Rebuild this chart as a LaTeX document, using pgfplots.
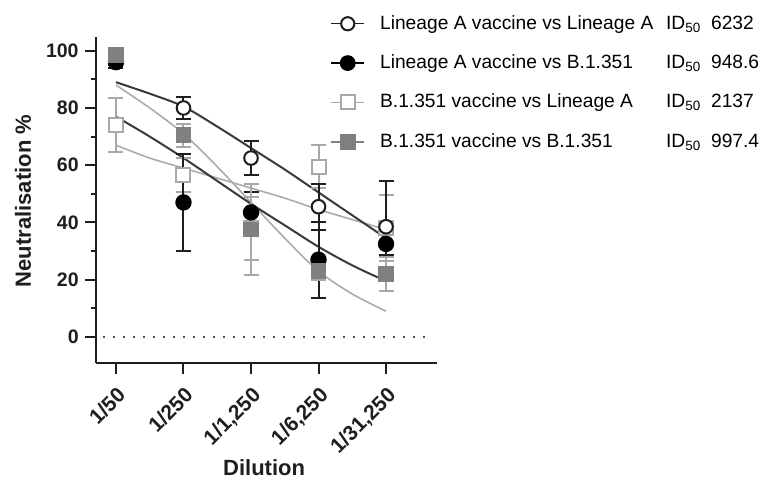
\documentclass[border=0pt]{standalone}
\usepackage{fontspec}
\setmainfont{Liberation Sans}
\usepackage{pgfplots}
\usepackage{pgfplotstable}
\pgfplotsset{compat=1.18}

\definecolor{dk}{HTML}{1E1E1E}
\definecolor{crv}{HTML}{3A3A3A}
\definecolor{lg}{HTML}{A8A8A8}
\definecolor{mg}{HTML}{808080}
\definecolor{lgc}{HTML}{ABABAB}
\definecolor{dot}{HTML}{555555}

% measured points: x, mean, error
\pgfplotstableread{
x y e
0 97 2
1 80 3.7
2 62.5 6
3 45.5 8
4 38.5 16
}\sA
\pgfplotstableread{
x y e
0 96 2
1 47 17
2 43.5 7.3
3 27 13.3
4 32.5 4
}\sB
\pgfplotstableread{
x y e
0 74 9.5
1 56.5 6
2 38 11
3 59.5 7.5
4 38 11.5
}\sC
\pgfplotstableread{
x y e
0 98.5 2
1 70.5 4
2 37.5 16
3 23 3
4 22 6
}\sD
% fitted curves
\pgfplotstableread{
x y
0 89
0.5 85
1 80.5
1.5 73.5
2 66
2.5 58.5
3 50.5
3.5 42.5
4 34.5
}\cA
\pgfplotstableread{
x y
0 77
0.5 70
1 62.5
1.5 54.5
2 46.5
2.5 39
3 31.5
3.5 25
4 19.5
}\cB
\pgfplotstableread{
x y
0 67
0.5 62.5
1 59
1.5 55.5
2 52
2.5 48.5
3 44.5
3.5 41
4 37.5
}\cC
\pgfplotstableread{
x y
0 88
0.5 80
1 71
1.5 59.5
2 47
2.5 34.5
3 23
3.5 15
4 9
}\cD

\newcommand\entry[3]{\makebox[143pt][l]{#1}\makebox[22.5pt][l]{#2}#3}

\begin{document}
\begin{tikzpicture}[x=1pt,y=1pt]
\useasboundingbox (0,0) rectangle (382.5,245);
\begin{axis}[
  at={(48pt,63.5pt)}, anchor=south west,
  scale only axis, width=170.5pt, height=163pt,
  xmin=-0.296, xmax=4.755, ymin=-9.1, ymax=104.8,
  clip=false,
  axis lines=left,
  axis line style={-, line width=1pt, color=dk},
  xtick={0,1,2,3,4},
  xticklabels={1/50,1/250,{1/1,250},{1/6,250},{1/31,250}},
  ytick={0,20,40,60,80,100},
  minor ytick={10,30,50,70,90},
  tick align=outside,
  tick style={line width=1pt, color=dk},
  major tick length=5.5pt, minor tick length=2.5pt,
  /pgf/number format/assume math mode=true,
  ticklabel style={font=\bfseries\fontsize{9.75}{11}\selectfont, text=dk},
  xticklabel style={font=\bfseries\fontsize{10.5}{12}\selectfont, rotate=45, anchor=north east, inner sep=4pt},
  yticklabel style={inner sep=3pt},
  xlabel={Dilution}, ylabel={Neutralisation \%},
  label style={font=\bfseries\fontsize{11}{13}\selectfont, text=dk},
  xlabel style={at={(axis description cs:0.493,-0.322)}, anchor=center},
  ylabel style={at={(axis description cs:-0.214,0.497)}, anchor=center},
  legend image code/.code={\draw[mark repeat=2,mark phase=2] plot coordinates {(0pt,0pt)(8.25pt,0pt)(16.5pt,0pt)};},
  legend cell align=left,
  legend style={at={(0.686,1.08)}, anchor=north west, draw=none, fill=none,
    inner sep=0pt, row sep=7.2pt,
    font=\fontsize{9.6}{11}\selectfont,
    nodes={inner sep=2pt},
    /tikz/every odd column/.append style={column sep=5.5pt}},
]
% zero line
\addplot[dot, line width=0.9pt, dash pattern=on 1pt off 4pt, forget plot] coordinates {(-0.19,0) (4.68,0)};
% fitted curves
\addplot[lgc, line width=0.8pt, smooth, forget plot] table[x=x,y=y] {\cC};
\addplot[lgc, line width=0.8pt, smooth, forget plot] table[x=x,y=y] {\cD};
\addplot[crv, line width=1pt, smooth, forget plot] table[x=x,y=y] {\cB};
\addplot[crv, line width=1pt, smooth, forget plot] table[x=x,y=y] {\cA};
% B.1.351 vaccine vs Lineage A
\addplot[only marks, color=lg, mark=square*, mark size=3.5pt,
  mark options={fill=white, line width=1pt}, forget plot,
  error bars/.cd, y dir=both, y explicit,
  error bar style={line width=1pt, color=lg},
  error mark options={rotate=90, mark size=3.75pt, line width=1pt, color=lg}]
  table[x=x,y=y,y error=e] {\sC};
% Lineage A vaccine vs Lineage A
\addplot[only marks, color=dk, mark=*, mark size=3.4pt,
  mark options={fill=white, line width=1pt}, forget plot,
  error bars/.cd, y dir=both, y explicit,
  error bar style={line width=1pt, color=dk},
  error mark options={rotate=90, mark size=3.75pt, line width=1pt, color=dk}]
  table[x=x,y=y,y error=e] {\sA};
% Lineage A vaccine vs B.1.351
\addplot[only marks, color=black, mark=*, mark size=3.6pt,
  mark options={fill=black, line width=1pt}, forget plot,
  error bars/.cd, y dir=both, y explicit,
  error bar style={line width=1pt, color=dk},
  error mark options={rotate=90, mark size=3.75pt, line width=1pt, color=dk}]
  table[x=x,y=y,y error=e] {\sB};
% B.1.351 vaccine vs B.1.351
\addplot[only marks, color=mg, mark=square*, mark size=3.6pt,
  mark options={fill=mg, line width=0.5pt}, forget plot,
  error bars/.cd, y dir=both, y explicit,
  error bar style={line width=1pt, color=lg},
  error mark options={rotate=90, mark size=3.75pt, line width=1pt, color=lg}]
  table[x=x,y=y,y error=e] {\sD};
% legend
\addlegendimage{color=dk, line width=0.7pt, mark=*, mark size=3.3pt, mark options={fill=white, line width=1pt}}
\addlegendentry{\entry{Lineage A vaccine vs Lineage A}{ID\textsubscript{50}}{6232}}
\addlegendimage{color=black, line width=0.9pt, mark=*, mark size=3.5pt, mark options={fill=black}}
\addlegendentry{\entry{Lineage A vaccine vs B.1.351}{ID\textsubscript{50}}{948.6}}
\addlegendimage{color=lg, line width=0.7pt, mark=square*, mark size=3.5pt, mark options={fill=white, line width=1pt}}
\addlegendentry{\entry{B.1.351 vaccine vs Lineage A}{ID\textsubscript{50}}{2137}}
\addlegendimage{color=mg, line width=0.9pt, mark=square*, mark size=3.5pt, mark options={fill=mg}}
\addlegendentry{\entry{B.1.351 vaccine vs B.1.351}{ID\textsubscript{50}}{997.4}}
\end{axis}
\end{tikzpicture}
\end{document}
